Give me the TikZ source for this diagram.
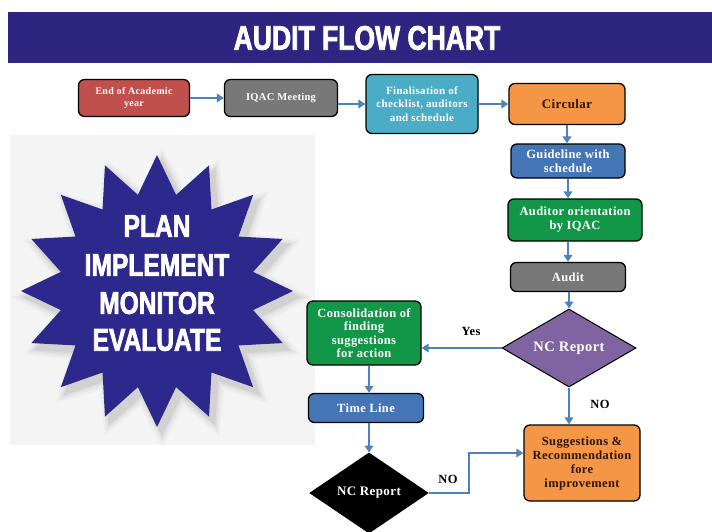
\documentclass[tikz,border=0pt]{standalone}
\usepackage{fontspec}
\setmainfont{Liberation Serif}[LetterSpace=3]
\newfontfamily\impactfont{Liberation Sans Bold}[FakeStretch=0.78, FakeBold=2.2]
\usetikzlibrary{arrows.meta,shapes.geometric,calc}
\definecolor{navy}{RGB}{46,37,128}
\definecolor{starblue}{RGB}{45,40,140}
\definecolor{boxred}{RGB}{192,80,77}
\definecolor{boxgray}{RGB}{120,120,120}
\definecolor{boxteal}{RGB}{75,172,198}
\definecolor{boxorange}{RGB}{245,150,70}
\definecolor{boxblue}{RGB}{68,118,182}
\definecolor{boxgreen}{RGB}{18,150,72}
\definecolor{boxpurple}{RGB}{128,100,162}
\definecolor{arrowblue}{RGB}{79,129,189}
\definecolor{darktext}{RGB}{45,22,6}
\definecolor{panel}{RGB}{244,244,244}
\tikzset{
  box/.style={draw=black, line width=1.3pt, rounded corners=6pt, align=center,
    inner sep=2pt, text=white, font=\bfseries\fontsize{12.5}{14}\selectfont},
  dia/.style={draw=black, line width=1pt, diamond, aspect=1.7, inner sep=0pt, text=white,
    font=\bfseries\fontsize{13}{15}\selectfont},
  arr/.style={draw=arrowblue, line width=2.5pt, -{Triangle[length=7pt,width=8.5pt]}},
  lbl/.style={font=\bfseries\fontsize{12.5}{14}\selectfont, text=black},
  bigtxt/.style={text=white, font=\impactfont\fontsize{31.5}{33}\selectfont}
}
\begin{document}
\begin{tikzpicture}[x=1pt,y=-1pt]
\useasboundingbox (0,0) rectangle (712,532);
\fill[white] (0,0) rectangle (712,532);
% title banner
\fill[navy] (8,12) rectangle (712,63);
\node[text=white, font=\impactfont\fontsize{34}{36}\selectfont] (title) at (367,38) {AUDIT FLOW CHART};
% left panel with star
\fill[panel] (10,135) rectangle (315,445);
\foreach \dr/\o in {14/0.05,10/0.07,6/0.09,3/0.11}{
  \begin{scope}[shift={(162,297)}]
    \fill[gray, opacity=\o] (90:136+\dr)
      \foreach \i in {0,...,15}{ -- ({90+\i*22.5+11.25}:98+\dr) -- ({90+(\i+1)*22.5}:136+\dr) } -- cycle;
  \end{scope}
}
\begin{scope}[shift={(157,291)}]
  \fill[starblue] (90:136)
    \foreach \i in {0,...,15}{ -- ({90+\i*22.5+11.25}:98) -- ({90+(\i+1)*22.5}:136) } -- cycle;
\end{scope}
\node[bigtxt] (plan) at (157,226) {PLAN};
\node[bigtxt] (impl) at (157,265) {IMPLEMENT};
\node[bigtxt] (moni) at (157,303) {MONITOR};
\node[bigtxt] (eval) at (157,340) {EVALUATE};
% top row
\node[box, fill=boxred, minimum width=111pt, minimum height=37pt,
  font=\bfseries\fontsize{10}{11.5}\selectfont] (end) at (134,98) {End of Academic\\year};
\node[box, fill=boxgray, minimum width=113pt, minimum height=37pt,
  font=\bfseries\fontsize{10.5}{12}\selectfont] (iqac) at (281,98) {IQAC Meeting};
\node[box, fill=boxteal, minimum width=112pt, minimum height=59pt,
  font=\bfseries\fontsize{11}{13.5}\selectfont] (fin) at (422,104) {Finalisation of\\checklist, auditors\\and schedule};
\node[box, fill=boxorange, text=darktext, minimum width=116pt, minimum height=41pt,
  font=\bfseries\fontsize{13}{15}\selectfont] (circ) at (567,104) {Circular};
% right column
\node[box, fill=boxblue, minimum width=114pt, minimum height=34pt] (guide) at (568,161) {Guideline with\\schedule};
\node[box, fill=boxgreen, minimum width=134pt, minimum height=42pt] (orient) at (575,220) {Auditor orientation\\by IQAC};
\node[box, fill=boxgray, minimum width=115pt, minimum height=29pt] (audit) at (568,277) {Audit};
\node[dia, fill=boxpurple, minimum width=134pt, minimum height=78pt,
  font=\bfseries\fontsize{14.5}{16}\selectfont] (nc1) at (569,348) {NC Report};
\node[box, fill=boxorange, text=darktext, minimum width=116pt, minimum height=76pt] (sugg) at (582,463) {Suggestions \&\\Recommendation\\fore\\improvement};
% left column
\node[box, fill=boxgreen, minimum width=114pt, minimum height=64pt,
  font=\bfseries\fontsize{12.5}{13.5}\selectfont] (cons) at (364,333) {Consolidation of\\finding\\suggestions\\for action};
\node[box, fill=boxblue, minimum width=115pt, minimum height=29pt] (time) at (366,408) {Time Line};
\node[dia, fill=black, minimum width=118pt, minimum height=80pt] (nc2) at (369,493) {NC Report};
% connectors
\draw[arr] (end.east) -- (iqac.west);
\draw[arr] (iqac.east |- fin.west) -- (fin.west);
\draw[arr] (fin.east) -- (circ.west);
\draw[arr] (circ.south) -- (circ.south |- guide.north);
\draw[arr] (guide.south) -- (guide.south |- orient.north);
\draw[arr] (orient.south -| audit) -- (audit.north);
\draw[arr] (audit.south -| nc1) -- (nc1.north);
\draw[arr] (nc1.west) -- (nc1.west -| cons.east);
\draw[arr] (nc1.south) -- (nc1.south |- sugg.north);
\draw[arr] (cons.south -| nc2) -- (time.north -| nc2);
\draw[arr] (time.south -| nc2) -- (nc2.north);
\coordinate (elbow) at (469,453);
\draw[arr] (nc2.east) -| (elbow) -- (elbow -| sugg.west);
% labels
\node[lbl] (yes) at (471,331) {Yes};
\node[lbl] (no1) at (600,404) {NO};
\node[lbl] (no2) at (448,479) {NO};
\end{tikzpicture}
\end{document}
